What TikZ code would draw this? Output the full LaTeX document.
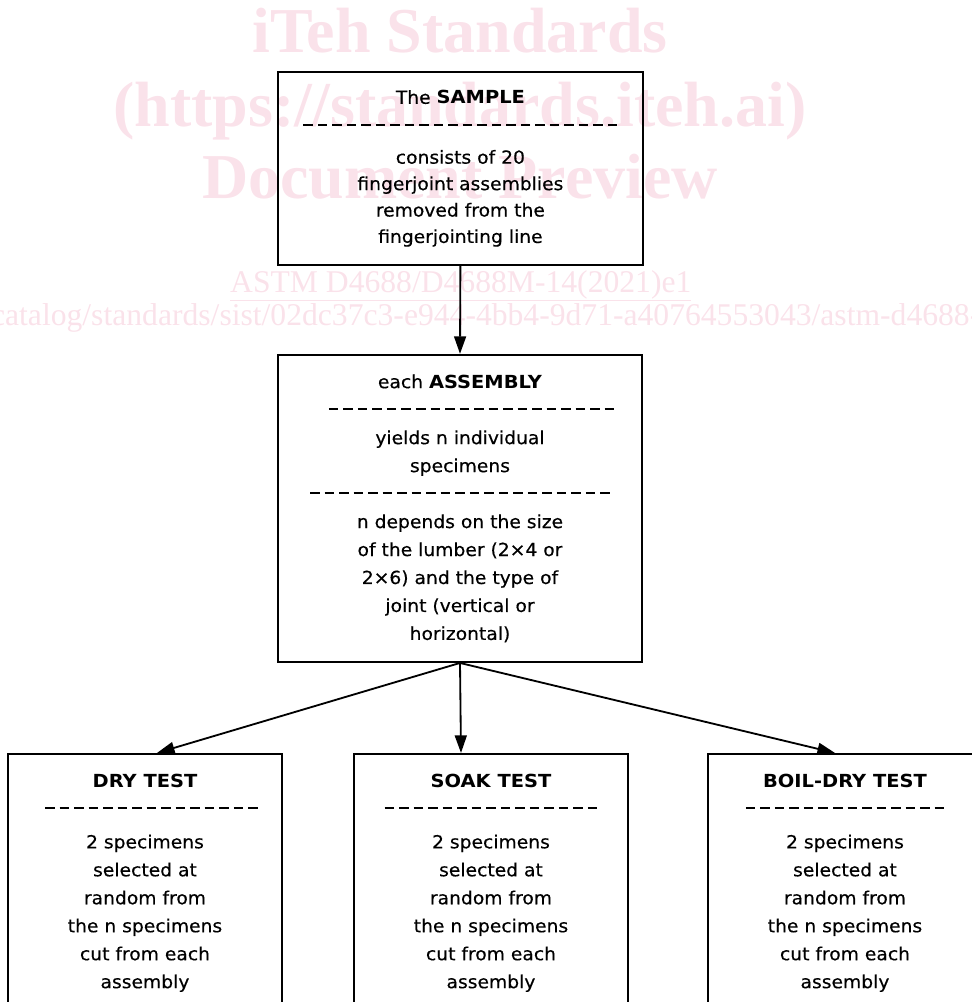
\documentclass[tikz,border=0pt]{standalone}
\usepackage{fontspec}
\setmainfont{DejaVu Sans}[FakeStretch=1.04, FakeBold=0.4]
\newfontfamily\hdfont{DejaVu Sans Bold}[FakeStretch=1.08]
\newfontfamily\wmfont{Liberation Serif}
\usetikzlibrary{arrows.meta}
\definecolor{wmpink}{RGB}{250,226,234}
\newcommand{\hd}[1]{{\hdfont #1}}
\newcommand{\dashrow}[2][0pt]{\hspace*{#1}\rule[4.3pt]{6.76pt}{1.42pt}%
  \foreach \k in {2,...,#2}{\hspace{3.56pt}\rule[4.3pt]{6.76pt}{1.42pt}}}

\begin{document}
\begin{tikzpicture}[
    box/.style={draw, line width=1.5pt, align=center, inner sep=0pt,
      font=\fontsize{12.8}{19.9}\selectfont},
    testbox/.style={box, minimum width=6.85cm, minimum height=6.45cm},
    wmbig/.style={text=wmpink, anchor=base,
      font=\wmfont\bfseries\fontsize{45.5}{45.5}\selectfont},
    wmsmall/.style={text=wmpink, anchor=base,
      font=\wmfont\fontsize{22.5}{22.5}\selectfont},
    link/.style={line width=1.3pt, -{Triangle[length=12.5pt,width=8.5pt]}}
  ]
        \useasboundingbox (0, 0) rectangle (24.3, -25.05);
        \clip (0, 0) rectangle (24.3, -25.05);

        % watermark of the preview
        \node[wmbig] (wm1) at (11.5, -1.3) {iTeh Standards};
        \node[wmbig] (wm2) at (11.5, -3.15) {(https://standards.iteh.ai)};
        \node[wmbig] (wm3) at (11.5, -4.95) {Document Preview};
        \node[wmsmall] (wm4) at (11.52, -7.3)
          {\underline{ASTM D4688/D4688M-14(2021)e1}};
        \node[wmsmall] (wm5) at (11.35, -8.125)
          {https://standards.iteh.ai/catalog/standards/sist/02dc37c3-e944-4bb4-9d71-a40764553043/astm-d4688-d4688m-142021e1};

        \node[box, minimum width=9.125cm, minimum height=4.825cm,
          font=\fontsize{12.8}{18.8}\selectfont] (sample)
          at (11.51, -4.21) {The \hd{SAMPLE}\\[1pt] \dashrow{22}\\[4pt]
          consists of 20\\ fingerjoint assemblies\\ removed from the\\
          fingerjointing line};

        \node[box, minimum width=9.1cm, minimum height=7.675cm] (asm)
          at (11.5, -12.71) {each \hd{ASSEMBLY}\\ \dashrow[16.4pt]{20}\\
          yields n individual\\ specimens\\ \dashrow{21}\\
          n depends on the size\\ of the lumber (2×4 or\\
          2×6) and the type of\\ joint (vertical or\\ horizontal)};

        \node[testbox] (dry) at (3.625, -22.075) {\hd{DRY TEST}\\
          \dashrow[9.2pt]{15}\\[3.5pt] 2 specimens\\ selected at\\ random from\\
          the n specimens\\ cut from each\\ assembly};
        \node[testbox] (soak) at (12.275, -22.075) {\hd{SOAK TEST}\\
          \dashrow{15}\\[3.5pt] 2 specimens\\ selected at\\ random from\\
          the n specimens\\ cut from each\\ assembly};
        \node[testbox] (boil) at (21.125, -22.075) {\hd{BOIL-DRY TEST}\\
          \dashrow{14}\\[3.5pt] 2 specimens\\ selected at\\ random from\\
          the n specimens\\ cut from each\\ assembly};

        \draw[link] (sample.south) to (asm.north);
        \draw[link] (asm.south) to ([xshift=0.3cm]dry.north);
        \draw[link] (asm.south) to ([xshift=-0.75cm]soak.north);
        \draw[link] (asm.south) to ([xshift=-0.25cm]boil.north);

\end{tikzpicture}
\end{document}
